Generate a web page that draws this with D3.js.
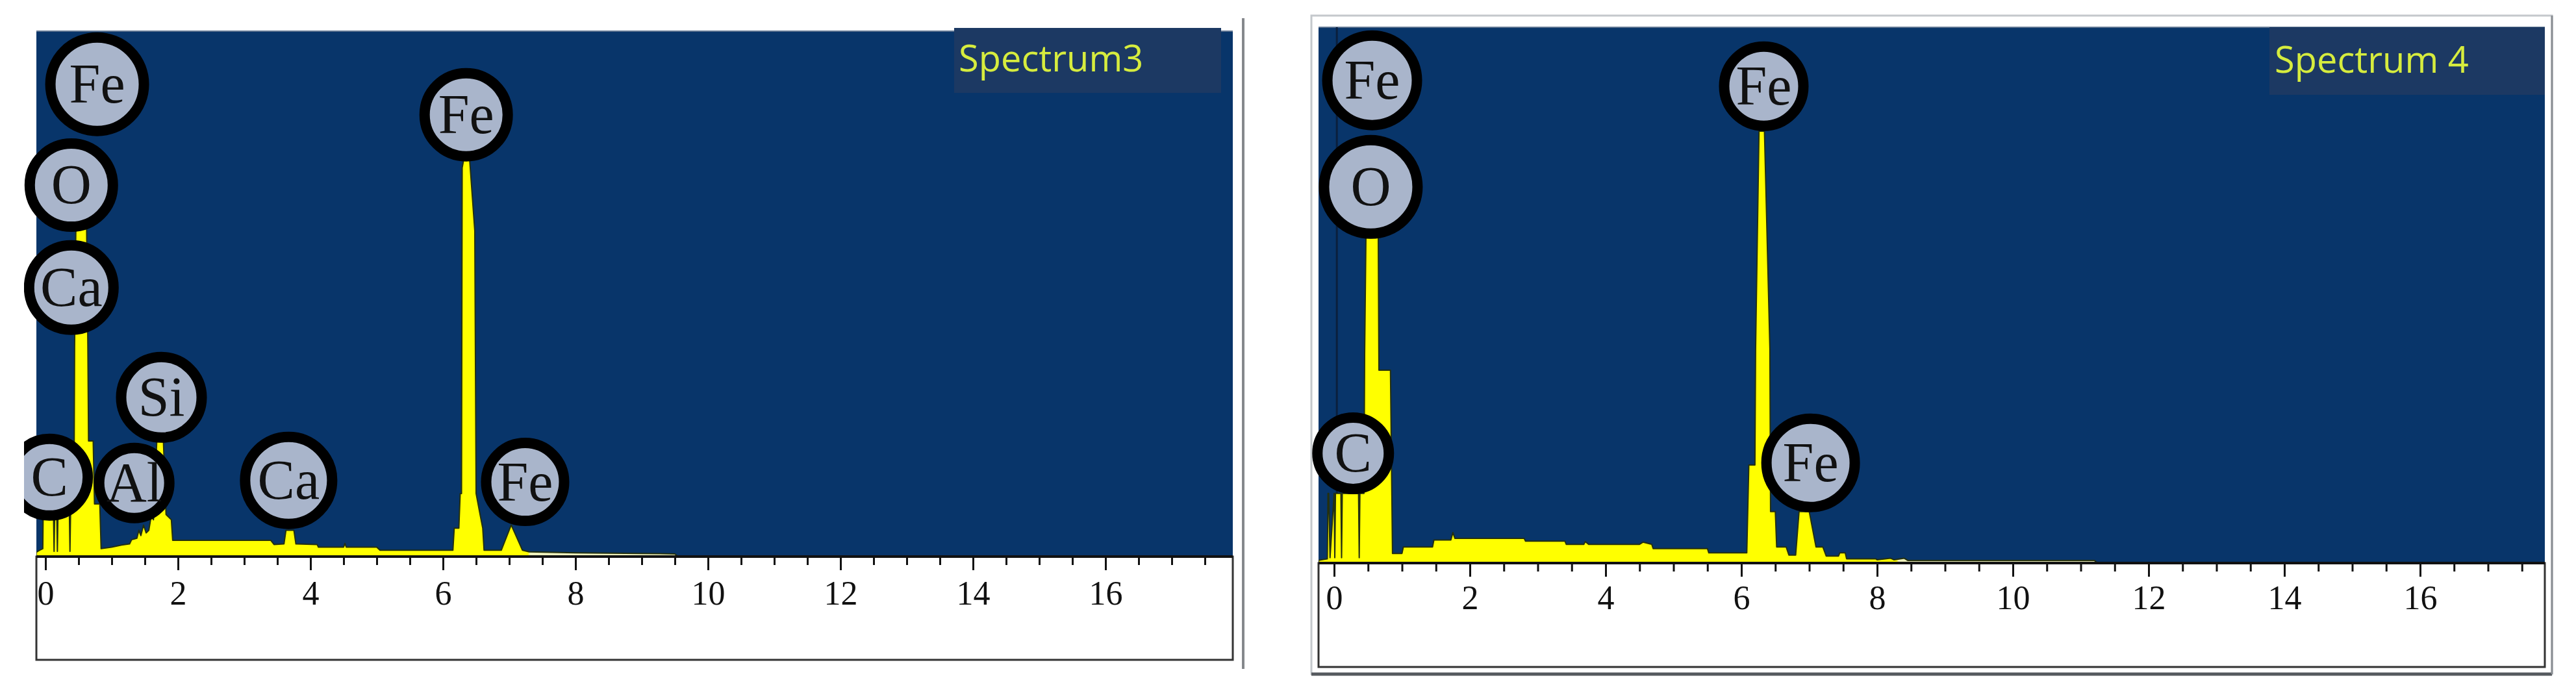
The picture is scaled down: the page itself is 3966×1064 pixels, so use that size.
<!DOCTYPE html>
<html>
<head>
<meta charset="utf-8">
<script src="https://cdn.jsdelivr.net/npm/d3@7"></script>
<style>
  html, body { margin: 0; padding: 0; background: #fff; }
  svg { display: block; }
</style>
</head>
<body>
<svg id="chart" width="3966" height="1064"></svg>
<script>
// ---- data: energy in keV, counts in % of full scale ----
const energy3 = [-0.14, -0.09, -0.04, -0.03, -0.01, 0.00, 0.12, 0.13, 0.14, 0.17, 0.18, 0.19, 0.36, 0.37, 0.38, 0.43, 0.44, 0.46, 0.62, 0.64, 0.65, 0.72, 0.74, 0.82, 0.84, 1.00, 1.15, 1.27, 1.30, 1.38, 1.41, 1.44, 1.48, 1.52, 1.56, 1.60, 1.63, 1.65, 1.68, 1.78, 1.82, 1.90, 1.92, 2.60, 3.40, 3.45, 3.60, 3.63, 3.75, 3.78, 4.10, 4.12, 4.50, 4.52, 4.54, 5.00, 5.05, 6.15, 6.17, 6.24, 6.26, 6.28, 6.29, 6.32, 6.40, 6.48, 6.50, 6.56, 6.60, 6.62, 6.88, 7.03, 7.20, 7.30, 8.00, 9.00, 9.50, 9.55];
const counts3 = [0.8, 1.2, 1.5, 14, 14, 9, 9, 1, 9, 9, 1, 9, 9, 1, 9, 9, 40, 64, 64, 40, 22, 22, 10, 10, 1.5, 1.8, 2.2, 2.4, 3.2, 3.5, 5.0, 4.0, 6.0, 4.5, 5.0, 8.0, 7.0, 12, 22, 22, 8, 7, 3.1, 3.1, 3.1, 2.3, 2.4, 5.0, 5.0, 2.4, 2.3, 1.8, 1.8, 2.5, 1.8, 1.8, 1.2, 1.2, 5.4, 5.4, 12, 12, 74, 76, 76, 62, 12, 8, 5.4, 1.2, 1.2, 6.0, 1.2, 0.9, 0.7, 0.6, 0.5, 0];

const energy4 = [-0.23, -0.10, -0.09, -0.08, -0.06, 0.00, 0.01, 0.02, 0.10, 0.11, 0.12, 0.36, 0.37, 0.38, 0.44, 0.45, 0.47, 0.65, 0.66, 0.83, 0.86, 1.00, 1.02, 1.45, 1.47, 1.72, 1.75, 1.78, 2.80, 2.82, 3.40, 3.42, 3.68, 3.70, 3.75, 4.50, 4.55, 4.68, 4.70, 5.50, 5.52, 6.08, 6.11, 6.20, 6.21, 6.26, 6.34, 6.42, 6.43, 6.50, 6.52, 6.66, 6.70, 6.80, 6.85, 7.00, 7.10, 7.20, 7.25, 7.43, 7.45, 7.53, 7.55, 7.98, 8.00, 8.20, 8.25, 8.40, 8.45, 11.20, 11.25];
const counts4 = [0.5, 0.8, 13, 13, 1, 13, 1, 13, 13, 1, 13, 13, 1, 13, 13, 39, 62, 62, 36, 36, 1.8, 1.8, 3.0, 3.0, 4.3, 4.3, 5.7, 4.6, 4.6, 4.1, 4.1, 3.5, 3.5, 4.0, 3.5, 3.5, 3.9, 3.5, 2.7, 2.7, 1.9, 1.9, 18.3, 18.3, 40, 80.6, 80.6, 40, 9.6, 9.6, 3.0, 3.0, 1.5, 1.5, 9.6, 9.6, 3.0, 3.0, 1.3, 1.3, 1.9, 1.9, 0.8, 0.8, 0.6, 0.9, 0.6, 0.9, 0.5, 0.5, 0];

// peak labels: element, where it sits (keV, % of full scale)
const peaks3 = ["Fe", "O", "Ca", "C", "Al", "Si", "Ca", "Fe", "Fe"];
const peakEnergy3 = [0.78, 0.39, 0.39, 0.06, 1.34, 1.75, 3.67, 7.24, 6.35];
const peakHeight3 = [89.9, 70.7, 51.2, 15.1, 14.0, 30.3, 14.5, 14.2, 84.1];

const peaks4 = ["Fe", "O", "Fe", "C", "Fe"];
const peakEnergy4 = [0.56, 0.54, 6.33, 0.28, 7.02];
const peakHeight4 = [90.1, 70.2, 89.0, 20.5, 18.7];

const xTicks = [0, 2, 4, 6, 8, 10, 12, 14, 16];
const titles = ["Spectrum3", "Spectrum 4"];

// ---- layout ----
const blue = "#08356a";
const serif = "'Liberation Serif', 'Times New Roman', serif";
const panels = [
  { title: titles[0], energy: energy3, counts: counts3, peaks: peaks3, pe: peakEnergy3, ph: peakHeight3,
    rings: [80, 72, 73, 67, 62, 70, 75, 68, 72],
    left: 56, right: 1898, top: 48, axisY: 857, bottom: 1016, x0: 70, x16: 1702, pad: 16,
    box: [1469, 43, 411, 100], titleX: 1476, titleY: 110, clipLeft: 37, tail: 7.3 },
  { title: titles[1], energy: energy4, counts: counts4, peaks: peaks4, pe: peakEnergy4, ph: peakHeight4,
    rings: [77, 80, 69, 63, 76],
    left: 2030, right: 3918, top: 42, axisY: 867, bottom: 1027, x0: 2054, x16: 3726, pad: 13,
    box: [3494, 42, 424, 104], titleX: 3502, titleY: 112, clipLeft: 2020, tail: 8.3 }
];

const svg = d3.select("#chart");
const defs = svg.append("defs");

// frame bits outside the plots
svg.append("line").attr("x1", 1914).attr("x2", 1914).attr("y1", 28).attr("y2", 1030)
  .attr("stroke", "#85888c").attr("stroke-width", 4);
svg.append("rect").attr("x", 2019).attr("y", 24).attr("width", 1910).attr("height", 1014)
  .attr("fill", "none").attr("stroke", "#c4c8cc").attr("stroke-width", 3);
svg.append("line").attr("x1", 2019).attr("x2", 3929).attr("y1", 1038).attr("y2", 1038)
  .attr("stroke", "#55595e").attr("stroke-width", 5);
svg.append("line").attr("x1", 3929).attr("x2", 3929).attr("y1", 24).attr("y2", 1038)
  .attr("stroke", "#8a8e93").attr("stroke-width", 3);

panels.forEach((p, i) => {
  const x = d3.scaleLinear().domain([0, 16]).range([p.x0, p.x16]);
  const y = d3.scaleLinear().domain([0, 100]).range([p.axisY, p.top]);
  const g = svg.append("g");

  // white box under the axis
  g.append("rect")
    .attr("x", p.left).attr("y", p.axisY)
    .attr("width", p.right - p.left).attr("height", p.bottom - p.axisY)
    .attr("fill", "#fff").attr("stroke", "#333").attr("stroke-width", 3);

  // plot background
  g.append("rect")
    .attr("x", p.left).attr("y", p.top)
    .attr("width", p.right - p.left).attr("height", p.axisY - p.top)
    .attr("fill", blue);
  g.append("line").attr("x1", p.left).attr("x2", p.right).attr("y1", p.top).attr("y2", p.top)
    .attr("stroke", "#5f7591").attr("stroke-width", 2);

  // title box
  g.append("rect")
    .attr("x", p.box[0]).attr("y", p.box[1]).attr("width", p.box[2]).attr("height", p.box[3])
    .attr("fill", "#1c3963");
  g.append("text")
    .attr("x", p.titleX).attr("y", p.titleY)
    .attr("font-family", "'Open Sans', sans-serif").attr("font-size", 56)
    .attr("fill", "#d6ec3e")
    .text(p.title);

  // clip for the spectrum
  defs.append("clipPath").attr("id", "plot" + i).append("rect")
    .attr("x", p.left).attr("y", p.top).attr("width", p.right - p.left).attr("height", p.axisY - p.top);

  if (i === 1) {
    g.append("line").attr("x1", x(0.04)).attr("x2", x(0.04)).attr("y1", p.top).attr("y2", p.axisY)
      .attr("stroke", "#0b1f3d").attr("stroke-width", 3);
  }

  // yellow fading to pale in the low tail
  const grad = defs.append("linearGradient").attr("id", "tail" + i)
    .attr("gradientUnits", "userSpaceOnUse")
    .attr("x1", x(p.tail) - 2).attr("x2", x(p.tail) + 2).attr("y1", 0).attr("y2", 0);
  grad.append("stop").attr("offset", 0).attr("stop-color", "#ffff00");
  grad.append("stop").attr("offset", 1).attr("stop-color", "#eef1bd");

  const area = d3.area()
    .x(d => x(d[0]))
    .y0(y(0))
    .y1(d => y(d[1]));

  g.append("path")
    .datum(d3.zip(p.energy, p.counts))
    .attr("clip-path", `url(#plot${i})`)
    .attr("d", area)
    .attr("fill", `url(#tail${i})`)
    .attr("stroke", "#24300f")
    .attr("stroke-width", 2)
    .attr("stroke-linejoin", "round");

  // ticks: minor every 0.5, major every 2
  const minorTicks = d3.range(0.5, 18, 0.5).filter(v => v % 2 !== 0 && x(v) < p.right - 4);
  g.append("g")
    .attr("transform", `translate(0,${p.axisY})`)
    .call(d3.axisBottom(x).tickValues(minorTicks).tickSize(13).tickFormat(""))
    .call(a => a.select(".domain").remove())
    .call(a => a.selectAll("line").attr("stroke", "#111").attr("stroke-width", 3));

  g.append("g")
    .attr("transform", `translate(0,${p.axisY})`)
    .call(d3.axisBottom(x).tickValues(xTicks).tickSize(21).tickPadding(p.pad))
    .call(a => a.select(".domain").remove())
    .call(a => a.selectAll("line").attr("stroke", "#111").attr("stroke-width", 3))
    .call(a => a.selectAll("text")
      .attr("fill", "#111")
      .attr("font-family", serif)
      .attr("font-size", 52));

  g.append("line")
    .attr("x1", p.left).attr("x2", p.right).attr("y1", p.axisY).attr("y2", p.axisY)
    .attr("stroke", "#111").attr("stroke-width", 4);

  // element labels
  defs.append("clipPath").attr("id", "lab" + i).append("rect")
    .attr("x", p.clipLeft).attr("y", 0).attr("width", p.right - p.clipLeft).attr("height", p.axisY);

  const labs = g.append("g").attr("clip-path", `url(#lab${i})`)
    .selectAll("g")
    .data(p.peaks.map((el, k) => ({ el, e: p.pe[k], h: p.ph[k], r: p.rings[k] })))
    .join("g")
    .attr("transform", d => `translate(${x(d.e)},${y(d.h)})`);

  labs.append("circle")
    .attr("r", d => d.r - 8)
    .attr("fill", "#a9b5cb")
    .attr("stroke", "#000")
    .attr("stroke-width", 16);

  labs.append("text")
    .attr("text-anchor", "middle")
    .attr("dy", "0.33em")
    .attr("font-family", serif)
    .attr("font-size", 86)
    .attr("fill", "#111")
    .text(d => d.el);
});
</script>
</body>
</html>
